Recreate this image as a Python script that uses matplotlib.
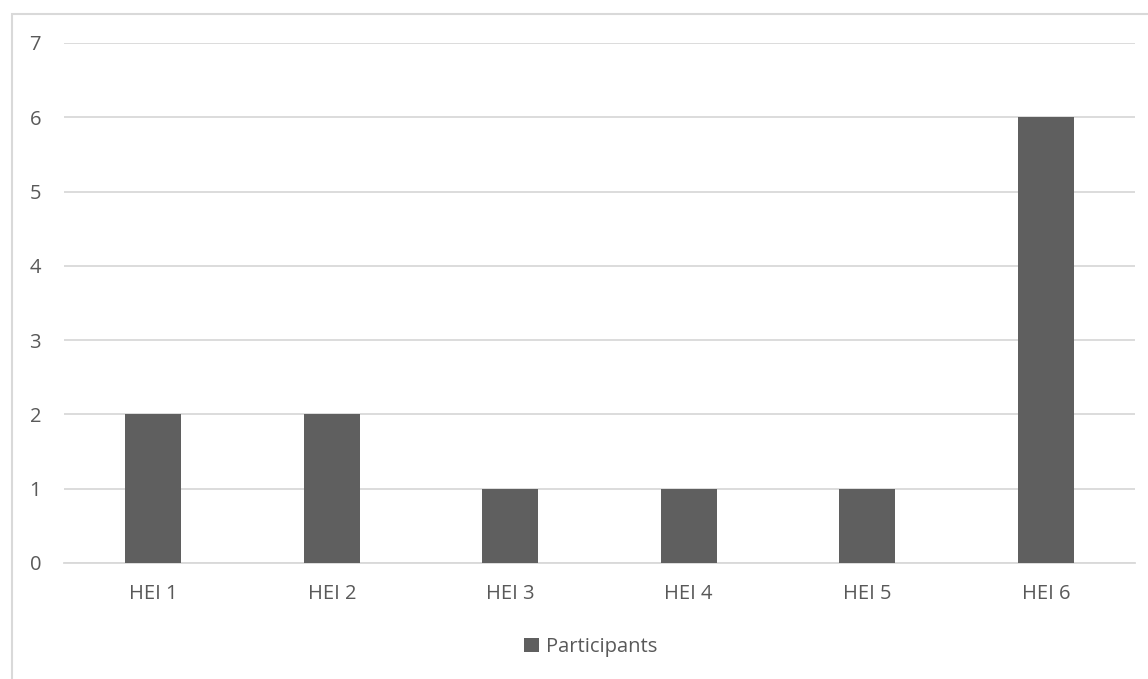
import matplotlib
matplotlib.use('Agg')
import matplotlib.pyplot as plt
from matplotlib.patches import Rectangle

# data
categories = ['HEI 1', 'HEI 2', 'HEI 3', 'HEI 4', 'HEI 5', 'HEI 6']
participants = [2, 2, 1, 1, 1, 6]

W, H = 1148, 679
plt.rcParams['font.family'] = ['Open Sans', 'DejaVu Sans']

fig = plt.figure(figsize=(W / 100, H / 100), dpi=100)
ax = fig.add_axes([64 / W, 1 - 563 / H, (1135 - 64) / W, (563 - 43) / H])

x = list(range(len(categories)))
ax.bar(x, participants, width=0.314, color='#5f5f5f', label='Participants', zorder=3)

ax.set_xlim(-0.5, len(categories) - 0.5)
ax.set_ylim(0, 7)
ax.set_yticks(range(0, 8))
ax.set_xticks(x)
ax.set_xticklabels(categories)
ax.tick_params(axis='both', length=0, labelsize=14.5, colors='#595959')
ax.tick_params(axis='y', pad=16.5)
ax.tick_params(axis='x', pad=15)
ax.grid(axis='y', color='#d9d9d9', linewidth=1.3, zorder=0)
for side in ['top', 'right', 'left']:
    ax.spines[side].set_visible(False)
ax.spines['bottom'].set_color('#d9d9d9')
ax.spines['bottom'].set_linewidth(1.3)

leg = fig.legend(loc='center', bbox_to_anchor=(591 / W, 1 - 647 / H), frameon=False,
                 fontsize=14.5, handlelength=0.75, handleheight=0.75, handletextpad=0.35)
for t in leg.get_texts():
    t.set_color('#595959')

# chart area frame
fig.patches.append(Rectangle((12 / W, -0.1), 1.2, 1 - 14 / H + 0.1, transform=fig.transFigure,
                             fill=False, edgecolor='#d9d9d9', linewidth=1.5))

fig.savefig('out.png', dpi=100, facecolor='white')
